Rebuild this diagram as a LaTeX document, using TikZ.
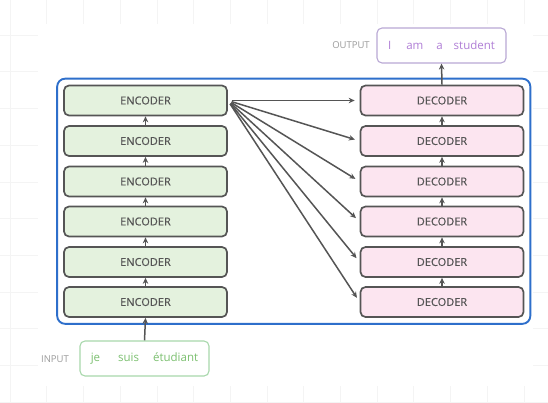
\documentclass[tikz,border=0pt]{standalone}
\usepackage{fontspec}
\setmainfont{Open Sans}
\setsansfont{Open Sans}
\newfontfamily\blockfont{Open Sans}[FakeBold=0.5]
\usepackage{xcolor}
\usepackage{tikz}
\usetikzlibrary{arrows.meta, positioning, fit}
\definecolor{edgegray}{HTML}{555555}
\definecolor{encgreen}{HTML}{E4F2DE}
\definecolor{decpink}{HTML}{FCE5F0}
\definecolor{stackblue}{HTML}{2E6FCB}
\definecolor{inputgreen}{HTML}{A8D8AC}
\definecolor{inputtext}{HTML}{7CC070}
\definecolor{outputline}{HTML}{B9A8D4}
\definecolor{outputtext}{HTML}{B07ED6}
\definecolor{labelgray}{HTML}{9B9B9B}
\definecolor{gridgray}{HTML}{F4F4F4}

\begin{document}
\begin{tikzpicture}[x=1pt, y=-1pt, font=\sffamily, >=Stealth,
    block/.style={rectangle, rounded corners=5pt, minimum width=163pt, minimum height=30pt,
      text centered, draw=edgegray, line width=1.7pt, text=edgegray,
      font=\blockfont\fontsize{11}{13}\selectfont},
    enc/.style={block, fill=encgreen},
    dec/.style={block, fill=decpink},
    wordbox/.style={rectangle, rounded corners=5pt, minimum width=129pt, minimum height=35pt,
      line width=1.1pt, font=\sffamily\fontsize{11.5}{13}\selectfont},
    tag/.style={text=labelgray, font=\sffamily\fontsize{9.5}{11}\selectfont},
    link/.style={->, draw=edgegray, line width=1.5pt, >={Stealth[length=6pt, width=5.5pt]}}]

    \useasboundingbox (0,0) rectangle (548,402);

    % faint canvas grid, white page on top
    \begin{scope}
      \clip (0,0) rectangle (548,402);
      \draw[gridgray, line width=0.6pt, shift={(10,-1.7)}] (-20,-20) grid[step=36.7pt] (560,420);
    \end{scope}
    \fill[white] (38,24) rectangle (533,386);

    % encoder stack
    \node (enc1) [enc] at (145.5,100.5) {ENCODER};
    \node (enc2) [enc] at (145.5,141)   {ENCODER};
    \node (enc3) [enc] at (145.5,181.5) {ENCODER};
    \node (enc4) [enc] at (145.5,221.5) {ENCODER};
    \node (enc5) [enc] at (145.5,262)   {ENCODER};
    \node (enc6) [enc] at (145.5,302)   {ENCODER};

    % decoder stack
    \node (dec1) [dec] at (442,100.5) {DECODER};
    \node (dec2) [dec] at (442,141)   {DECODER};
    \node (dec3) [dec] at (442,181.5) {DECODER};
    \node (dec4) [dec] at (442,221.5) {DECODER};
    \node (dec5) [dec] at (442,262)   {DECODER};
    \node (dec6) [dec] at (442,302)   {DECODER};

    % blue frame round both stacks
    \node (stack) [draw=stackblue, line width=1.9pt, rounded corners=8pt, inner sep=6pt,
      fit=(enc1)(dec6)] {};

    % input and output sentences
    \node (input) [wordbox, draw=inputgreen, text=inputtext] at (144.5,358.5)
      {je\hspace{18pt}suis\hspace{14pt}étudiant};
    \node (inlabel) [tag] at (55,359) {INPUT};
    \node (output) [wordbox, draw=outputline, text=outputtext] at (441.5,45.5)
      {I\hspace{15pt}am\hspace{13pt}a\hspace{11pt}student};
    \node (outlabel) [tag] at (351,45) {OUTPUT};

    % upward flow through the stacks
    \draw[link] (input.north) -- (enc6.south);
    \draw[link] (enc6.north) -- (enc5.south);
    \draw[link] (enc5.north) -- (enc4.south);
    \draw[link] (enc4.north) -- (enc3.south);
    \draw[link] (enc3.north) -- (enc2.south);
    \draw[link] (enc2.north) -- (enc1.south);
    \draw[link] (dec6.north) -- (dec5.south);
    \draw[link] (dec5.north) -- (dec4.south);
    \draw[link] (dec4.north) -- (dec3.south);
    \draw[link] (dec3.north) -- (dec2.south);
    \draw[link] (dec2.north) -- (dec1.south);
    \draw[link] (dec1.north) -- (output.south);

    % top encoder feeds every decoder
    \draw[link, shorten <=4pt, shorten >=5pt] (enc1.east) -- (dec1.west);
    \draw[link, shorten <=4pt, shorten >=5pt] (enc1.east) -- (dec2.west);
    \draw[link, shorten <=4pt, shorten >=5pt] (enc1.east) -- (dec3.west);
    \draw[link, shorten <=4pt, shorten >=5pt] (enc1.east) -- (dec4.west);
    \draw[link, shorten <=4pt, shorten >=5pt] (enc1.east) -- (dec5.west);
    \draw[link, shorten <=4pt, shorten >=5pt] (enc1.east) -- (dec6.west);
\end{tikzpicture}
\end{document}
